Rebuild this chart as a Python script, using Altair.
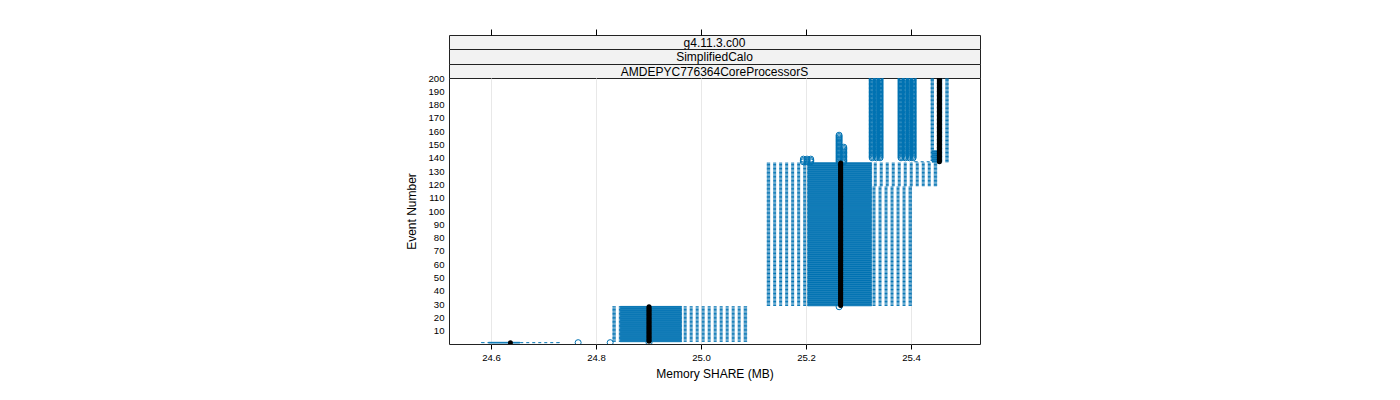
import altair as alt
import pandas as pd

# ---- data -------------------------------------------------------------
strip_labels = ["g4.11.3.c00", "SimplifiedCalo", "AMDEPYC776364CoreProcessorS"]
x_ticks = [24.6, 24.8, 25.0, 25.2, 25.4]
y_ticks = list(range(10, 201, 10))

# runs of consecutive events sharing the same box statistics
seg_first = [1, 2, 29, 119, 137, 138, 146]
seg_last = [1, 28, 118, 136, 137, 145, 200]
seg_wlo = [24.582, 24.832, 25.126, 25.126, 25.407, 25.438, 25.438]
seg_q1 = [24.595, 24.846, 25.203, 25.203, 25.440, 25.440, 25.452]
seg_med = [24.637, 24.901, 25.266, 25.266, 25.454, 25.454, 25.454]
seg_q3 = [24.655, 24.963, 25.325, 25.325, 25.457, 25.457, 25.456]
seg_whi = [24.730, 25.087, 25.401, 25.449, 25.471, 25.471, 25.471]

# runs of consecutive events sharing the same outliers
out_first = [1, 28, 137, 137, 137, 140]
out_last = [1, 28, 139, 157, 148, 200]
out_values = [
    [24.766, 24.827, 24.901],
    [25.263],
    [25.195, 25.202, 25.209],
    [25.263],
    [25.272],
    [25.326, 25.334, 25.341, 25.381, 25.389, 25.397, 25.404],
]

# ---- tables -----------------------------------------------------------
rows = []
for f, l, wlo, q1, med, q3, whi in zip(seg_first, seg_last, seg_wlo, seg_q1,
                                        seg_med, seg_q3, seg_whi):
    for e in range(f, l + 1):
        rows.append(dict(event=e, lo=e - 0.25, hi=e + 0.25, wlo=wlo, q1=q1,
                         med=med, q3=q3, whi=whi))
box_df = pd.DataFrame(rows)

orows = []
for f, l, vals in zip(out_first, out_last, out_values):
    for e in range(f, l + 1):
        for v in vals:
            orows.append(dict(event=e, value=v))
out_df = pd.DataFrame(orows)

# ---- styling ----------------------------------------------------------
BLUE = "#0072B2"
FONT = "Liberation Sans"
W, H = 531, 266
STRIP_H = [14, 15, 14]

xs = alt.Scale(domain=[24.52, 25.5314], nice=False, zero=False)
ys = alt.Scale(domain=[0, 200], nice=False, zero=False)

xaxis = alt.Axis(values=x_ticks, format=".1f", title="Memory SHARE (MB)",
                 labelFontSize=9.6, titleFontSize=12, tickSize=5, labelPadding=3,
                 titlePadding=7, domain=False, grid=True, gridColor="#E8E8E8",
                 tickColor="black", labelColor="black", titleColor="black",
                 titleFontWeight="normal", labelFont=FONT, titleFont=FONT)
yaxis = alt.Axis(values=y_ticks, title="Event Number", labelFontSize=9.6,
                 titleFontSize=12, tickSize=0, labelPadding=5, titlePadding=9,
                 domain=False, grid=False, labelColor="black",
                 titleColor="black", titleFontWeight="normal",
                 labelFont=FONT, titleFont=FONT)


def X(field):
    return alt.X(field, type="quantitative", scale=xs, axis=xaxis)


def Y(field):
    return alt.Y(field, type="quantitative", scale=ys, axis=yaxis)


base = alt.Chart(box_df)

boxes = base.mark_rect(fillOpacity=0, stroke=BLUE, strokeWidth=1, clip=True).encode(
    x=X("q1"), x2="q3", y=Y("lo"), y2="hi")
whisk_lo = base.mark_rule(color=BLUE, strokeDash=[3, 3], strokeWidth=1, clip=True).encode(
    x=X("wlo"), x2="q1", y=Y("event"))
whisk_hi = base.mark_rule(color=BLUE, strokeDash=[3, 3], strokeWidth=1, clip=True).encode(
    x=X("whi"), x2="q3", y=Y("event"))
cap_lo = base.mark_rule(color=BLUE, strokeWidth=1, clip=True).encode(
    x=X("wlo"), y=Y("lo"), y2="hi")
cap_hi = base.mark_rule(color=BLUE, strokeWidth=1, clip=True).encode(
    x=X("whi"), y=Y("lo"), y2="hi")
outliers = alt.Chart(out_df).mark_point(shape="circle", filled=False, size=36,
                                        color=BLUE, strokeWidth=1, opacity=1,
                                        clip=True).encode(
    x=X("value"), y=Y("event"))
medians = base.mark_circle(size=25, color="black", opacity=1, clip=True).encode(
    x=X("med"), y=Y("event"))

main = alt.layer(whisk_lo, whisk_hi, cap_lo, cap_hi, boxes, outliers, medians).properties(
    width=W, height=H,
    view=alt.ViewBackground(fill="white", stroke="#222222", strokeWidth=1))

# ---- strips -----------------------------------------------------------
tick_df = pd.DataFrame({"v": x_ticks})
strips = []
for i, (lab, h) in enumerate(zip(strip_labels, STRIP_H)):
    txt = alt.Chart(pd.DataFrame({"label": [lab]})).mark_text(
        font=FONT, fontSize=12, color="black", baseline="middle", align="center"
    ).encode(text="label:N", x=alt.value(W / 2), y=alt.value(h / 2 + 0.5))
    if i == 0:
        top = alt.Chart(tick_df).mark_rule(opacity=0).encode(
            x=alt.X("v:Q", scale=xs,
                    axis=alt.Axis(orient="top", values=x_ticks, labels=False,
                                  tickSize=6, domain=False, grid=False,
                                  title=None, tickColor="black")))
        s = alt.layer(top, txt)
    else:
        s = txt
    strips.append(s.properties(
        width=W, height=h,
        view=alt.ViewBackground(fill="#F2F2F2", stroke="#222222", strokeWidth=1)))

chart = alt.vconcat(*strips, main, spacing=0, bounds="flush").properties(
    padding={"left": 405, "top": 28, "right": 5, "bottom": 5},
    background="white",
).configure(font=FONT).resolve_scale(x="independent")

chart.save("out.html", embed_options={"renderer": "svg", "actions": False})
